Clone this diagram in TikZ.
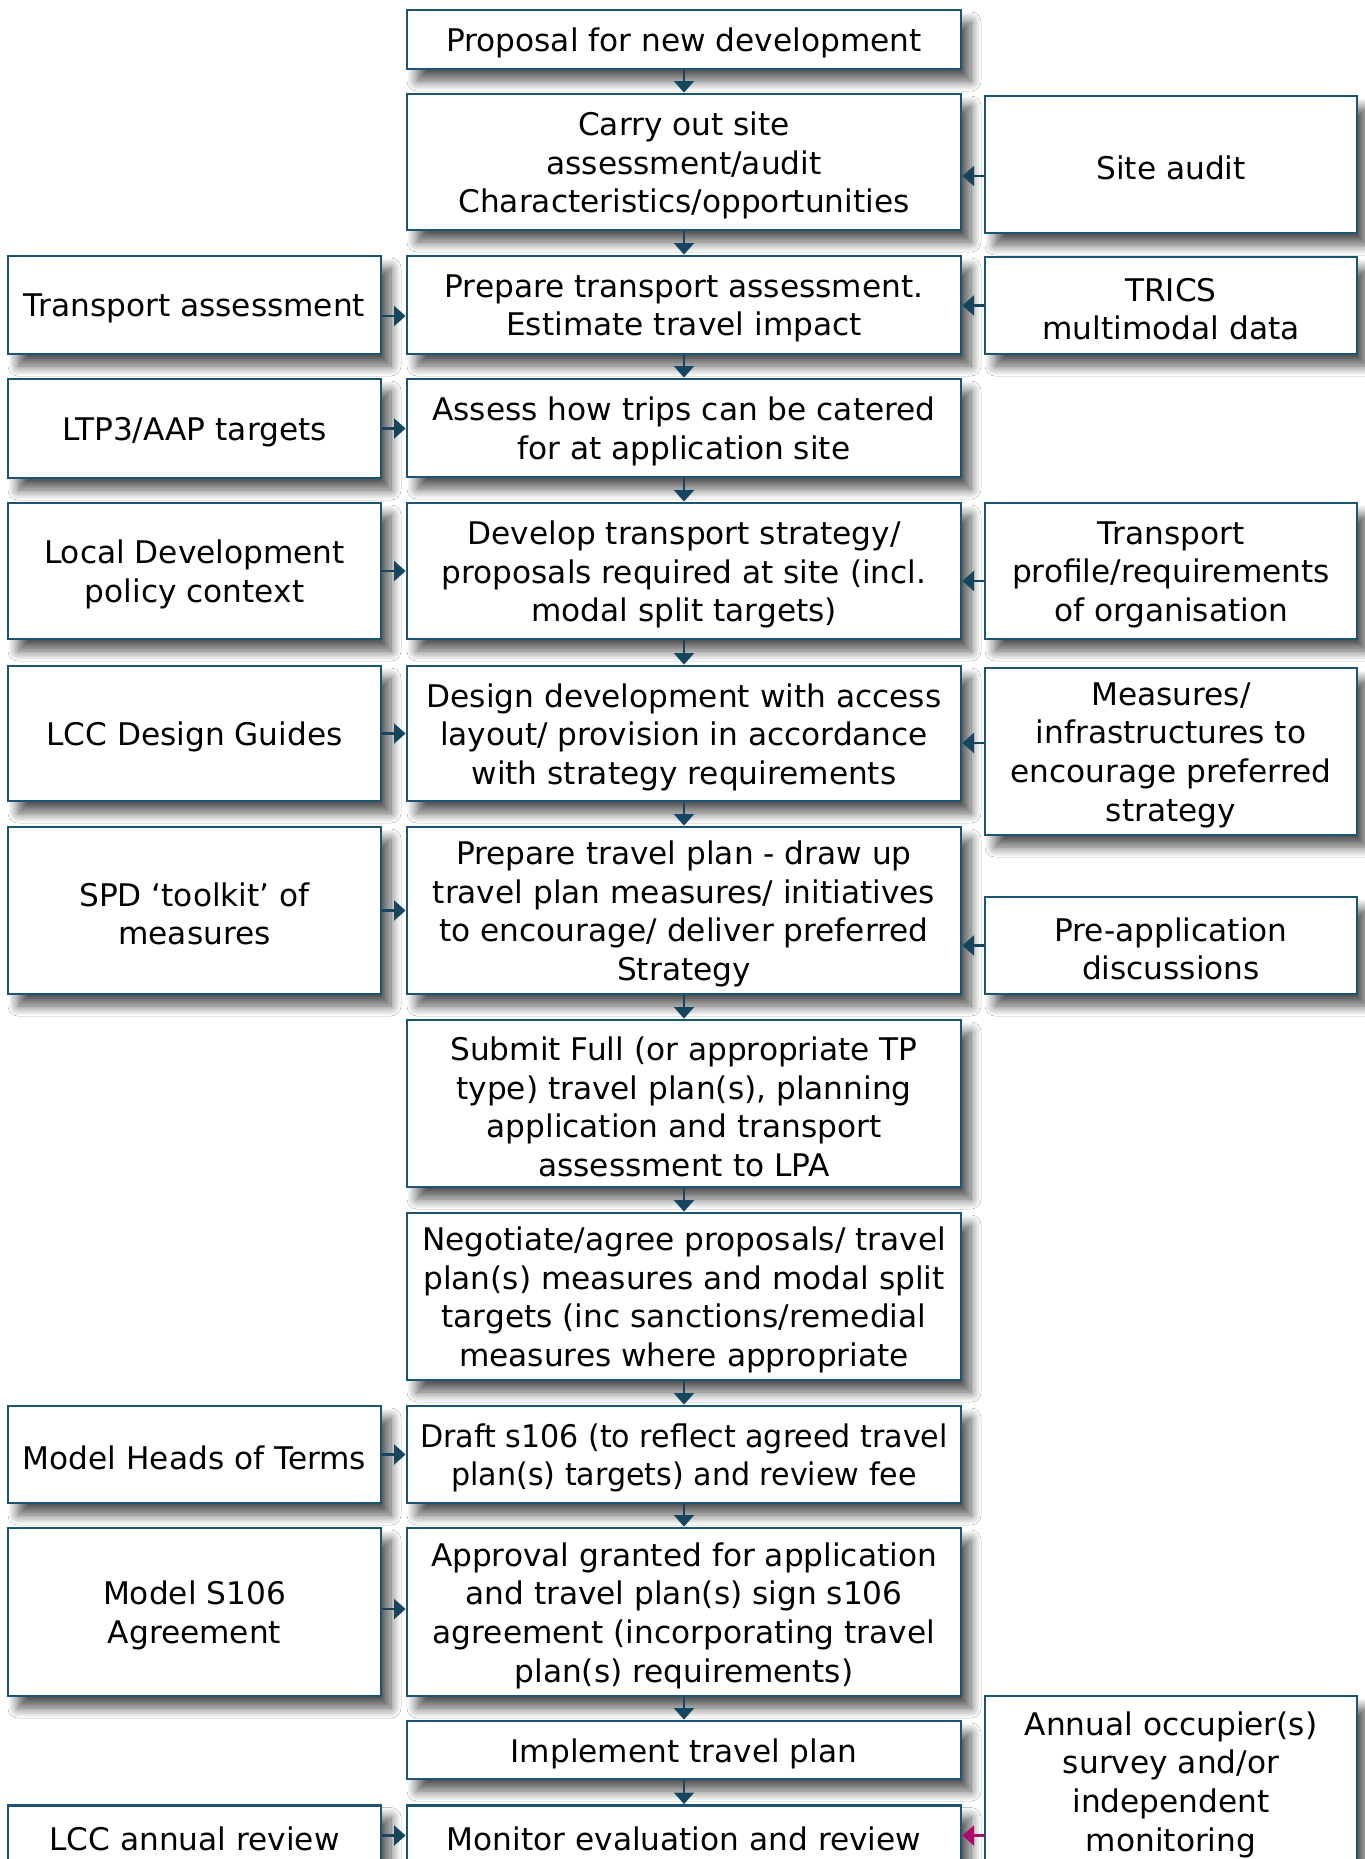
\documentclass[tikz,border=0pt]{standalone}
\usepackage{fontspec}
\setmainfont{DejaVu Sans}
\newfontfamily\fnar[FakeStretch=0.965]{DejaVu Sans}
\usetikzlibrary{shadows.blur,arrows.meta}
\definecolor{boxc}{RGB}{27,85,115}
\definecolor{arrc}{RGB}{22,70,95}
\definecolor{magc}{RGB}{170,10,110}
\tikzset{
  box/.style={draw=boxc, line width=1.4pt, fill=white, inner sep=0pt,
    blur shadow={shadow xshift=5pt, shadow yshift=-6pt, shadow blur radius=5pt, shadow opacity=66, shadow blur steps=12}},
  lbl/.style={font=\fontsize{15.6pt}{19.3pt}\selectfont, align=center, inner sep=0pt, yshift=-1.75pt},
  tx/.style={label={[lbl]center:{#1}}},
  txn/.style={label={[lbl, font=\fontsize{15.6pt}{19.3pt}\selectfont\fnar]center:{#1}}},
  lcol/.style={box, minimum width=186.5pt},
  ccol/.style={box, minimum width=277pt},
  rcol/.style={box, minimum width=186pt},
  arr/.style={draw=arrc, line width=1.1pt, -{Triangle[width=10pt,length=5.8pt]}},
  marr/.style={draw=magc, line width=1.1pt, -{Triangle[width=10pt,length=5.8pt]}}
}
\begin{document}
\begin{tikzpicture}[x=0.5pt,y=-0.5pt]
\clip (0,0) rectangle (1365,1859);
\fill[white] (0,0) rectangle (1365,1859);

% centre column
\node[ccol, minimum height=29.5pt, tx={Proposal for new development}] (c1) at (684,39.5) {};
\node[ccol, minimum height=68pt, tx={Carry out site\\assessment/audit\\Characteristics/opportunities}] (c2) at (684,162) {};
\node[ccol, minimum height=49pt, tx={Prepare transport assessment.\\Estimate travel impact}] (c3) at (684,305) {};
\node[ccol, minimum height=49pt, tx={Assess how trips can be catered\\for at application site}] (c4) at (684,428) {};
\node[ccol, minimum height=68pt, tx={Develop transport strategy/\\proposals required at site (incl.\\modal split targets)}] (c5) at (684,571) {};
\node[ccol, minimum height=67.5pt, tx={Design development with access\\layout/ provision in accordance\\with strategy requirements}] (c6) at (684,733.5) {};
\node[ccol, minimum height=83.5pt, tx={Prepare travel plan - draw up\\travel plan measures/ initiatives\\to encourage/ deliver preferred\\Strategy}] (c7) at (684,910.5) {};
\node[ccol, minimum height=83.5pt, tx={Submit Full (or appropriate TP\\type) travel plan(s), planning\\application and transport\\assessment to LPA}] (c8) at (684,1103.5) {};
\node[ccol, minimum height=83.5pt, tx={Negotiate/agree proposals/ travel\\plan(s) measures and modal split\\targets (inc sanctions/remedial\\measures where appropriate}] (c9) at (684,1296.5) {};
\node[ccol, minimum height=48.5pt, txn={Draft s106 (to reflect agreed travel\\plan(s) targets) and review fee}] (c10) at (684,1454.5) {};
\node[ccol, minimum height=84pt, tx={Approval granted for application\\and travel plan(s) sign s106\\agreement (incorporating travel\\plan(s) requirements)}] (c11) at (684,1612) {};
\node[ccol, minimum height=29pt, tx={Implement travel plan}] (c12) at (684,1750) {};
\node[ccol, minimum height=30pt, tx={Monitor evaluation and review}] (c13) at (684,1835.5) {};

% left column
\node[lcol, minimum height=49pt, tx={Transport assessment}] (l3) at (194.5,305) {};
\node[lcol, minimum height=49.5pt, tx={LTP3/AAP targets}] (l4) at (194.5,428.5) {};
\node[lcol, minimum height=68pt, tx={Local Development\\policy context}] (l5) at (194.5,571) {};
\node[lcol, minimum height=67.5pt, tx={LCC Design Guides}] (l6) at (194.5,733.5) {};
\node[lcol, minimum height=83.5pt, tx={SPD ‘toolkit’ of\\measures}] (l7) at (194.5,910.5) {};
\node[lcol, minimum height=48.5pt, tx={Model Heads of Terms}] (l10) at (194.5,1454.5) {};
\node[lcol, minimum height=84pt, tx={Model S106\\Agreement}] (l11) at (194.5,1612) {};
\node[lcol, minimum height=30pt, tx={LCC annual review}] (l13) at (194.5,1835.5) {};

% right column
\node[rcol, minimum height=68.5pt, tx={Site audit}] (r2) at (1171,164.5) {};
\node[rcol, minimum height=48.5pt, tx={TRICS\\multimodal data}] (r3) at (1171,305.5) {};
\node[rcol, minimum height=68pt, tx={Transport\\profile/requirements\\of organisation}] (r5) at (1171,571) {};
\node[rcol, minimum height=83.5pt, tx={Measures/\\infrastructures to\\encourage preferred\\strategy}] (r6) at (1171,751.5) {};
\node[rcol, minimum height=48.5pt, tx={Pre-application\\discussions}] (r7) at (1171,945.5) {};
\node[rcol, minimum height=85pt, tx={Annual occupier(s)\\survey and/or\\independent\\monitoring}] (r13) at (1171,1781) {};

% vertical connectors
\foreach \a/\b in {c1/c2,c2/c3,c3/c4,c4/c5,c5/c6,c6/c7,c7/c8,c8/c9,c9/c10,c10/c11,c11/c12,c12/c13}
  \draw[arr] (\a.south) -- (\b.north);

% left connectors
\coordinate (p3) at ([yshift=-5.5pt]l3.east);
\draw[arr] (p3) -- (p3 -| c3.west);
\draw[arr] (l4.east) -- (l4.east -| c4.west);
\draw[arr] (l5.east) -- (c5.west);
\draw[arr] (l6.east) -- (c6.west);
\draw[arr] (l7.east) -- (c7.west);
\draw[arr] (l10.east) -- (c10.west);
\draw[arr] ([yshift=1.5pt]l11.east) -- ([yshift=1.5pt]c11.west);
\draw[arr] (l13.east) -- (c13.west);

% right connectors
\coordinate (q2) at ([yshift=-5.75pt]r2.west);
\draw[arr] (q2) -- (q2 -| c2.east);
\draw[arr] (r3.west) -- (r3.west -| c3.east);
\coordinate (q5) at ([yshift=-5pt]r5.west);
\draw[arr] (q5) -- (q5 -| c5.east);
\coordinate (q6) at ([yshift=4.25pt]r6.west);
\draw[arr] (q6) -- (q6 -| c6.east);
\draw[arr] (r7.west) -- (r7.west -| c7.east);
\draw[marr] (r13.west |- c13.east) -- (c13.east);
\end{tikzpicture}
\end{document}
